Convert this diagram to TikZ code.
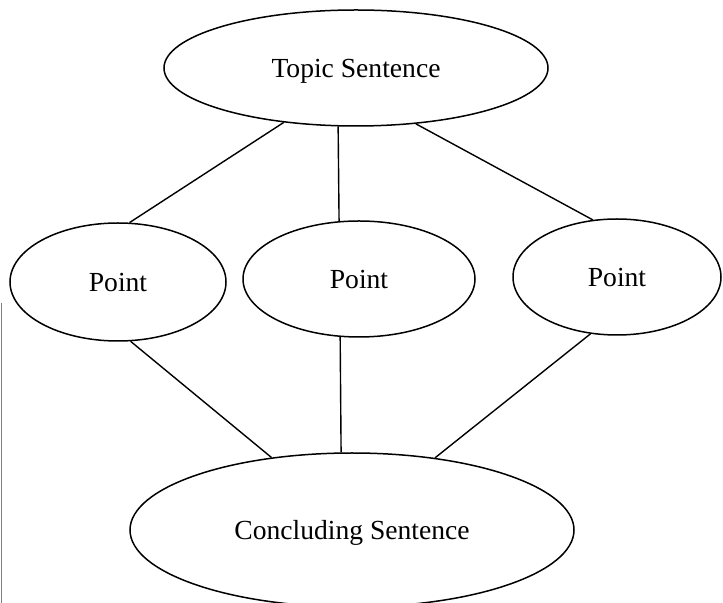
\documentclass[tikz,border=0pt]{standalone}
\usepackage{fontspec}
\setmainfont{Liberation Serif}
\usepackage{tikz}
\usetikzlibrary{shapes.geometric}

\begin{document}
\begin{tikzpicture}[x=0.5pt,y=-0.5pt]
		\tikzset{bubble/.style={draw=black,ellipse,line width=0.75pt,inner sep=0pt,text depth=0pt,font=\fontsize{13.8}{16}\selectfont}}
		\tikzset{link/.style={black,line width=0.7pt}}
		\useasboundingbox (0,0) rectangle (723,603);
		\node [bubble,minimum width=192pt,minimum height=58pt] (topic) at (356,68) {Topic Sentence};
		\node [bubble,minimum width=108pt,minimum height=59pt] (pointa) at (118,282) {Point};
		\node [bubble,minimum width=116pt,minimum height=58pt] (pointb) at (359,279) {Point};
		\node [bubble,minimum width=104pt,minimum height=58pt] (pointc) at (617,277) {Point};
		\node [bubble,minimum width=222pt,minimum height=77pt] (concl) at (352,530) {Concluding Sentence};
		\draw [link] (topic.217.6) -- (pointa.79.4);
		\draw [link] (topic.253.4) -- (pointb.109);
		\draw [link] (topic.317) -- (pointc.113.8);
		\draw [link] (pointa.282.4) -- (concl.138.5);
		\draw [link] (pointb.252.8) -- (concl.98.2);
		\draw [link] (pointc.245.9) -- (concl.41.8);
		\draw [gray,line width=0.5pt] (1,303) -- (1,603);
		\end{tikzpicture}
\end{document}
